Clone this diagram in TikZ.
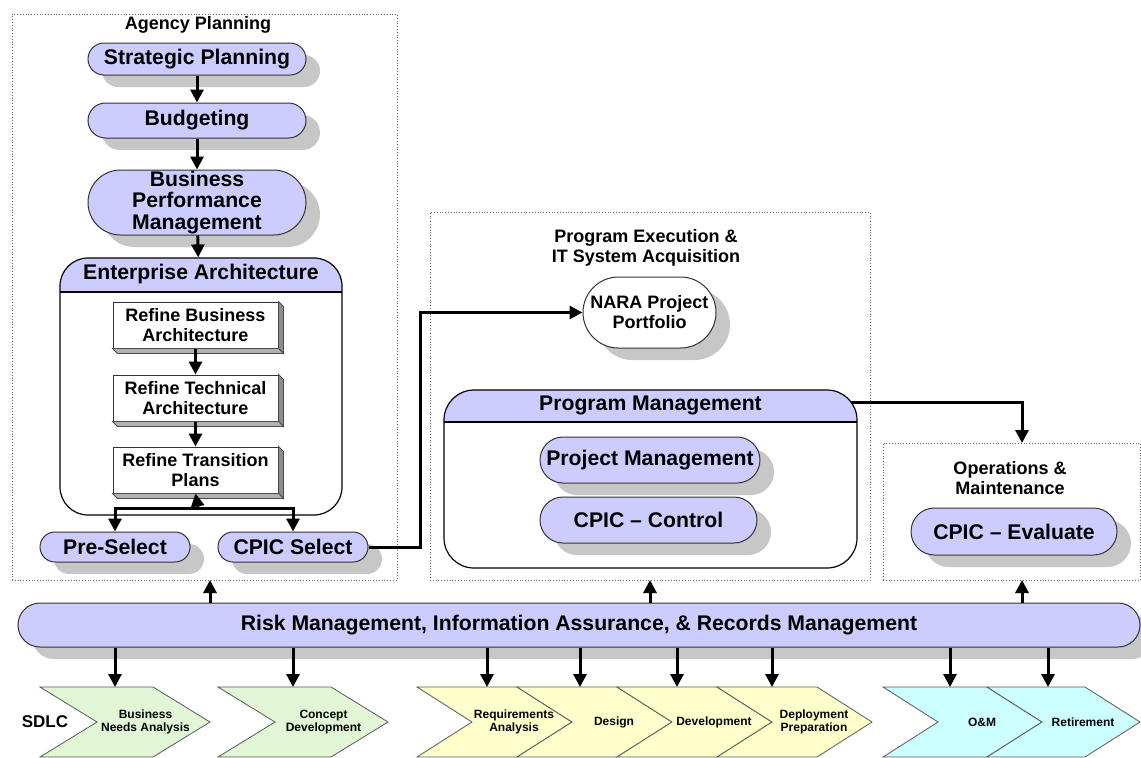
\documentclass[tikz,border=0pt]{standalone}
\usepackage{fontspec}
\setmainfont{Liberation Sans}
\usepackage{xcolor}
\usepackage{tikz}
\usetikzlibrary{arrows.meta, positioning, shadows}

\definecolor{lavender}{RGB}{204,204,255}
\definecolor{sdlcgreen}{RGB}{226,245,213}
\definecolor{sdlcyellow}{RGB}{255,255,204}
\definecolor{sdlccyan}{RGB}{204,255,255}

\tikzset{
  big/.style={font=\bfseries\fontsize{10.6}{10.6}\selectfont},
  mid/.style={font=\bfseries\fontsize{9}{10}\selectfont},
  small/.style={font=\bfseries\fontsize{6}{6.6}\selectfont},
  pill/.style={draw=black!80, line width=0.5pt, fill=lavender, inner sep=0.5pt, align=center, big,
    rounded corners=#1, minimum height=2*#1,
    drop shadow={shadow xshift=7pt, shadow yshift=-6pt, fill=black!22, opacity=1}},
  frame/.style={draw=black!60, densely dotted, line width=0.4pt, inner sep=0pt},
  container/.style={draw, line width=0.6pt, rounded corners=14pt, fill=white, inner sep=0pt,
    path picture={\fill[lavender, sharp corners] (path picture bounding box.north west) rectangle ([yshift=-#1]path picture bounding box.north east);
      \draw[line width=0.6pt, sharp corners] ([yshift=-#1]path picture bounding box.north west) -- ([yshift=-#1]path picture bounding box.north east);}},
  refine/.style={draw=black!80, fill=white, line width=0.5pt, minimum width=82.5pt, minimum height=23pt, inner sep=1pt, align=center, mid},
  arr/.style={-{Triangle[length=6.5pt, width=6.5pt]}, line width=1.5pt},
  chev/.style={draw=black!65, line width=0.4pt},
}

\begin{document}
\begin{tikzpicture}[x=0.5pt, y=-0.5pt]
\useasboundingbox (0,0) rectangle (1141,757);

% dotted frames
\node[frame, minimum width=192.5pt, minimum height=283pt] (agency) at (204.5,297) {};
\node[frame, minimum width=220pt, minimum height=184pt] (exec) at (650,396) {};
\node[frame, minimum width=128.5pt, minimum height=68.5pt] (om) at (1011.5,511.5) {};
\node[mid] (agtitle) at (198,25) {Agency Planning};
\node[mid, align=center] (extitle) at (646,248) {Program Execution \&\\IT System Acquisition};
\node[mid, align=center] (omtitle) at (1010,478) {Operations \&\\Maintenance};

% agency planning
\node[pill=8pt, minimum width=109pt] (sp) at (197,59) {Strategic Planning};
\node[pill=8.75pt, minimum width=109pt] (bud) at (197,120.5) {Budgeting};
\node[pill=16.25pt, minimum width=109pt] (bpm) at (197,202.5) {Business\\Performance\\Management};
\node[container=17pt, minimum width=141pt, minimum height=128.5pt] (ea) at (201,386.5) {};
\node[big] (eatitle) at ([yshift=-8.5pt]ea.north) {Enterprise Architecture};
\node[refine] (rba) at (195.5,325) {Refine Business\\Architecture};
\node[refine] (rta) at (195.5,398) {Refine Technical\\Architecture};
\node[refine] (rtp) at (195.5,470) {Refine Transition\\Plans};
\foreach \n in {rba,rta,rtp}{
  \filldraw[fill=black!45, draw=black!70, line width=0.4pt] (\n.north east) -- ++(5,5) -- ([shift={(5,5)}]\n.south east) -- (\n.south east) -- cycle;
  \filldraw[fill=black!30, draw=black!70, line width=0.4pt] (\n.south west) -- ++(5,5) -- ([shift={(5,5)}]\n.south east) -- (\n.south east) -- cycle;
}
\node[pill=7.5pt, minimum width=75pt] (pre) at (115,547) {Pre-Select};
\node[pill=7.5pt, minimum width=75pt] (cpic) at (293,547) {CPIC Select};

% program execution
\node[pill=17.75pt, fill=white, minimum width=66.5pt, mid] (nara) at (649.5,312.5) {NARA Project\\Portfolio};
\node[container=16pt, rounded corners=15pt, minimum width=206.5pt, minimum height=89pt] (pm) at (650.5,479) {};
\node[big] (pmtitle) at ([yshift=-8pt]pm.north) {Program Management};
\node[pill=11.5pt, minimum width=110pt] (pjm) at (650,460) {Project Management};
\node[pill=11.5pt, minimum width=108.5pt] (ctl) at (648.5,520) {CPIC -- Control};

% operations
\node[pill=11.75pt, minimum width=103pt] (eval) at (1014,531.5) {CPIC -- Evaluate};

% risk bar
\node[pill=11pt, minimum width=561pt, big] (risk) at (579,625) {Risk Management, Information Assurance, \& Records Management};

% SDLC chevrons
\node[font=\bfseries\fontsize{8.5}{9}\selectfont] (sdlc) at (45,722) {SDLC};
\foreach \x/\w/\d/\ax/\col/\nm/\txt in {
  40/113/57/115/sdlcgreen/bna/{Business\\Needs Analysis},
  218/113/57/293/sdlcgreen/cd/{Concept\\Development},
  417/100/55/487/sdlcyellow/ra/{Requirements\\Analysis},
  517/100/55/580/sdlcyellow/des/{Design},
  617/100/55/677/sdlcyellow/dev/{Development},
  717/100/55/772/sdlcyellow/dp/{Deployment\\Preparation},
  883/104/55/950/sdlccyan/oam/{O\&M},
  987/98/55/1048/sdlccyan/ret/{Retirement}}{
  \filldraw[chev, fill=\col] (\x,687) -- ++(\w,0) -- ++(\d,35) -- ++(-\d,35) -- ++(-\w,0) -- ++(\d,-35) -- cycle;
  \node[small, align=center] (\nm) at (\x+\d+\w/2-8,722) {\txt};
  \coordinate (\nm-top) at (\ax,687);
}

% connectors
\draw[arr] (sp) -- (bud);
\draw[arr] (bud) -- (bpm);
\draw[arr] (bpm) -- (ea);
\draw[arr] (rba) -- (rta);
\draw[arr] (rta) -- (rtp);
\coordinate (split) at (198,508);
\draw[arr] (split) -- (rtp.south);
\draw[arr] (split) -| (pre.north);
\draw[arr] (split) -| (cpic.north);
\draw[arr] (cpic.east) -- ++(52,0) |- (nara.west);
\coordinate (pmout) at (851,402);
\coordinate (omin) at (1022,443);
\draw[arr] (pmout) -| (omin);
\coordinate (ag-in) at (210,580);
\coordinate (ex-in) at (650,580);
\coordinate (om-in) at (1022,580);
\foreach \c in {ag-in,ex-in,om-in}
  \draw[arr] (risk.north -| \c) -- (\c);
\foreach \c in {bna,cd,ra,des,dev,dp,oam,ret}
  \draw[arr] (risk.south -| \c-top) -- (\c-top);
\end{tikzpicture}
\end{document}
